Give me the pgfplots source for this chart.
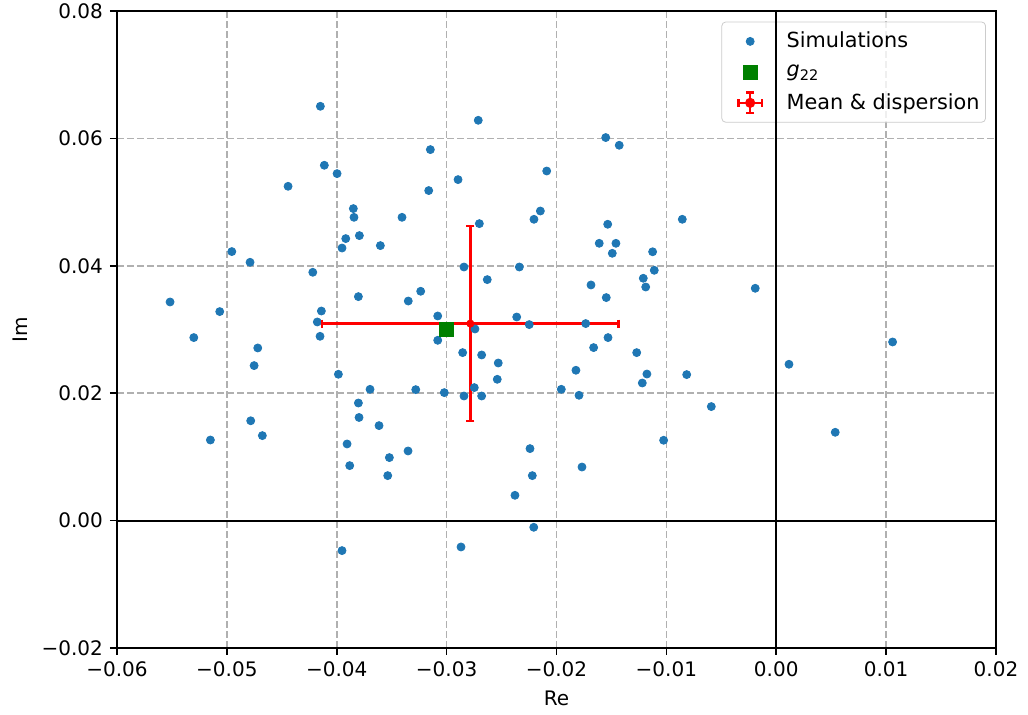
\documentclass[border=0pt]{standalone}
\usepackage{fontspec}
\setmainfont{DejaVu Sans}
\usepackage{pgfplots}
\usepackage{pgfplotstable}
\pgfplotsset{compat=1.18}
\definecolor{mplblue}{HTML}{1F77B4}
\definecolor{mplgreen}{HTML}{008000}
\definecolor{gridgray}{HTML}{B0B0B0}
\definecolor{legedge}{HTML}{CCCCCC}

\pgfplotstableread{
x y
-0.04149 0.06504
-0.04113 0.05578
-0.03997 0.05447
-0.04443 0.05248
-0.03849 0.04898
-0.03843 0.04761
-0.03406 0.04761
-0.03918 0.04427
-0.03794 0.04474
-0.03603 0.04317
-0.03952 0.04279
-0.04955 0.04223
-0.04789 0.04055
-0.02712 0.06284
-0.03148 0.05824
-0.01552 0.06013
-0.01429 0.05892
-0.02896 0.05353
-0.03163 0.05181
-0.02089 0.05488
-0.02702 0.04662
-0.02147 0.04860
-0.02205 0.04730
-0.01534 0.04652
-0.01611 0.04353
-0.01459 0.04353
-0.01492 0.04196
-0.00855 0.04730
-0.01125 0.04220
-0.04218 0.03898
-0.05517 0.03432
-0.05065 0.03281
-0.03803 0.03516
-0.04140 0.03290
-0.04177 0.03118
-0.04152 0.02893
-0.05301 0.02873
-0.04719 0.02710
-0.04752 0.02433
-0.03985 0.02297
-0.03697 0.02061
-0.03803 0.01846
-0.03797 0.01619
-0.04783 0.01567
-0.02842 0.03981
-0.02338 0.03981
-0.02630 0.03783
-0.03236 0.03600
-0.03349 0.03447
-0.01686 0.03699
-0.01547 0.03501
-0.03081 0.03212
-0.02362 0.03196
-0.02248 0.03077
-0.02742 0.03008
-0.01734 0.03093
-0.03081 0.02830
-0.01531 0.02873
-0.01662 0.02716
-0.01270 0.02637
-0.02854 0.02637
-0.02681 0.02600
-0.02530 0.02474
-0.02539 0.02218
-0.01823 0.02360
-0.03281 0.02056
-0.03021 0.02009
-0.02748 0.02088
-0.02842 0.01956
-0.02681 0.01956
-0.01956 0.02061
-0.01795 0.01967
-0.01110 0.03929
-0.01210 0.03804
-0.01188 0.03667
-0.00191 0.03647
0.01059 0.02804
0.00116 0.02454
-0.01177 0.02301
-0.00815 0.02292
-0.01219 0.02160
-0.00591 0.01790
-0.05150 0.01265
-0.04677 0.01334
-0.03615 0.01491
-0.03906 0.01203
-0.03521 0.00989
-0.03882 0.00863
-0.03536 0.00706
-0.03952 -0.00471
-0.03351 0.01093
-0.02241 0.01130
-0.02220 0.00706
-0.02378 0.00397
-0.01768 0.00841
-0.02207 -0.00105
-0.02869 -0.00414
-0.01025 0.01261
0.00537 0.01386
}\simdata

\begin{document}
\fontsize{10}{12}\selectfont
\begin{tikzpicture}
\begin{axis}[
  at={(0,0)}, anchor=south west,
  width=439.5pt, height=318.5pt, scale only axis,
  xmin=-0.06, xmax=0.02, ymin=-0.02, ymax=0.08,
  scaled ticks=false,
  xtick={-0.06,-0.05,-0.04,-0.03,-0.02,-0.01,0,0.01,0.02},
  xticklabels={−0.06,−0.05,−0.04,−0.03,−0.02,−0.01,0.00,0.01,0.02},
  ytick={-0.02,0,0.02,0.04,0.06,0.08},
  yticklabels={−0.02,0.00,0.02,0.04,0.06,0.08},
  tick label style={font=\fontsize{10}{12}\selectfont},
  label style={font=\fontsize{10}{12}\selectfont},
  xmajorgrids, ymajorgrids,
  grid style={gridgray, line width=0.8pt, dash pattern=on 3.5pt off 1.5pt},
  tick align=outside, major tick length=3.5pt,
  tick style={black, line width=0.8pt},
  xtick pos=bottom, ytick pos=left,
  axis line style={line width=0.8pt},
  xlabel={Re}, ylabel={Im},
  legend cell align=left,
  legend style={at={(1,1)}, anchor=north east, xshift=-5pt, yshift=-5.3pt,
    draw=legedge, rounded corners=2pt, fill=white, fill opacity=0.8, text opacity=1,
    font=\fontsize{10.4}{12.5}\selectfont, row sep=3pt, inner xsep=1pt, inner ysep=3pt},
  legend image code/.code={
    \path (0pt,0pt) (29pt,0pt);
    \draw[#1, only marks, fill opacity=1, draw opacity=1] plot coordinates {(13pt,0pt)};
  },
]
\addplot[black, line width=1pt, forget plot] coordinates {(0,-0.02) (0,0.08)};
\addplot[black, line width=1pt, forget plot] coordinates {(-0.06,0) (0.02,0)};
\coordinate (ztop) at (axis cs:0,0.08);
\coordinate (zbot) at (axis cs:0,0.05);
\addplot[only marks, mark=*, mark size=2pt, mplblue, mark options={draw=mplblue, fill=mplblue}]
  table[x=x, y=y] {\simdata};
\addlegendentry{Simulations}
\addplot[only marks, mark=square*, mark size=3.5pt, mplgreen, mark options={draw=mplgreen, fill=mplgreen}]
  coordinates {(-0.0300,0.0300)};
\addlegendentry{{\itshape g}\textsubscript{22}}
% dispersion bars
\addplot[red, line width=1.2pt, forget plot] coordinates {(-0.04132,0.03093) (-0.01436,0.03093)};
\addplot[red, line width=1.2pt, forget plot] coordinates {(-0.02784,0.01563) (-0.02784,0.04623)};
\addplot[only marks, mark=|, mark size=2pt, red, line width=1.2pt, forget plot]
  coordinates {(-0.04132,0.03093) (-0.01436,0.03093)};
\addplot[only marks, mark=-, mark size=2pt, red, line width=1.2pt, forget plot]
  coordinates {(-0.02784,0.01563) (-0.02784,0.04623)};
\addplot[only marks, mark=*, mark size=1.8pt, red, mark options={draw=red, fill=red},
  legend image code/.code={
    \path (0pt,0pt) (29pt,0pt);
    \begin{scope}[red, line width=1.2pt, fill opacity=1, draw opacity=1]
      \draw (7.2pt,0pt) -- (18.8pt,0pt);
      \draw (13pt,-5.2pt) -- (13pt,5.2pt);
      \draw (7.2pt,-2pt) -- (7.2pt,2pt);
      \draw (18.8pt,-2pt) -- (18.8pt,2pt);
      \draw (11pt,-5.2pt) -- (15pt,-5.2pt);
      \draw (11pt,5.2pt) -- (15pt,5.2pt);
      \fill (13pt,0pt) circle (1.9pt);
    \end{scope}
  }]
  coordinates {(-0.02784,0.03093)};
\addlegendentry{Mean \& dispersion}
\end{axis}
\draw[black, line width=1pt] (ztop) -- (zbot);
\pgfresetboundingbox
\path (-58.5pt,-33.5pt) rectangle (455.5pt,324pt);
\end{tikzpicture}
\end{document}
